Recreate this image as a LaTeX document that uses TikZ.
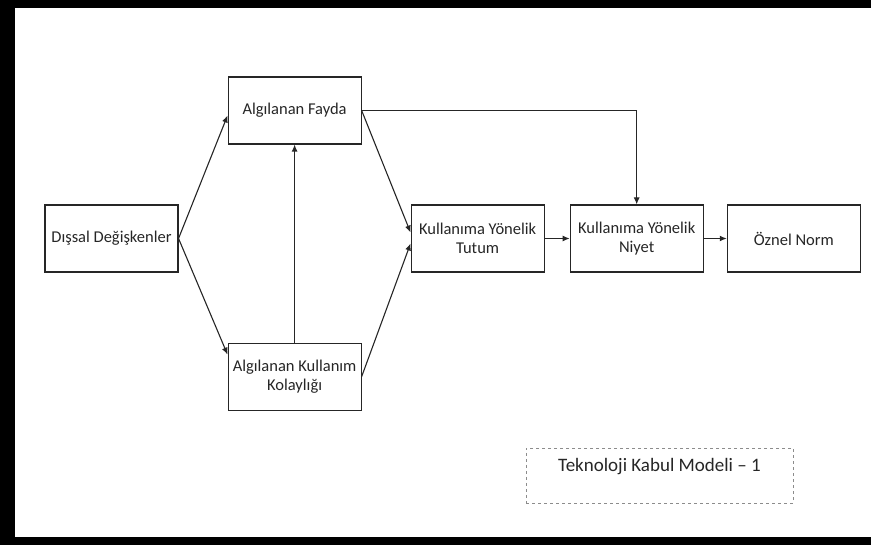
\documentclass[tikz,border=0pt]{standalone}
\usepackage{fontspec}
\setmainfont{Carlito}
\usepackage{tikz}
\usetikzlibrary{positioning, arrows.meta}

\begin{document}
\begin{tikzpicture}[
    x=1pt, y=1pt,
    bx/.style={rectangle, draw=black!85, line width=1.1pt, minimum width=133pt, minimum height=67pt, inner sep=2pt, align=center, font=\fontsize{16.5}{19.5}\selectfont, text=black!85},
    notebox/.style={rectangle, draw=black!45, dashed, line width=0.8pt, minimum width=267pt, minimum height=55pt, text height=14pt, text depth=22pt, font=\fontsize{19}{22}\selectfont, text=black!85},
    arr/.style={-{Latex[length=7pt, width=6pt]}, line width=1.1pt, black!85},
    ]
	% Frame
	\useasboundingbox (0,0) rectangle (871,-545);
	\fill[black] (0,0) rectangle (871,-8);
	\fill[black] (0,0) rectangle (15,-545);
	\fill[black] (0,-537) rectangle (871,-545);

	% External variables
	\node[bx] (dis) at (111.5,-238.5) {Dışsal Değişkenler};
	% Perceived usefulness / ease of use
	\node[bx, right=49pt of dis.east, yshift=128pt] (fayda) {Algılanan Fayda};
	\node[bx, below=198pt of fayda] (kolay) {Algılanan Kullanım\\Kolaylığı};
	% Attitude, intention, norm
	\node[bx, right=232pt of dis.east] (tutum) {Kullanıma Yönelik\\Tutum};
	\node[bx, right=25pt of tutum] (niyet) {Kullanıma Yönelik\\Niyet};
	\node[bx, right=23pt of niyet] (norm) {Öznel Norm};

	% Caption box
	\node[notebox] (tkm) at (659.5,-475.5) {Teknoloji Kabul Modeli – 1};

	% Edges from external variables
	\draw[arr] (dis.east) -- ([yshift=-5pt]fayda.west);
	\draw[arr] (dis.east) -- ([yshift=22pt]kolay.west);
	\draw[arr] (kolay) -- (fayda);

	% Edges to attitude
	\draw[arr] (fayda.east) -- ([yshift=6pt]tutum.west);
	\draw[arr] (kolay.east) -- ([yshift=-5pt]tutum.west);

	% Edges to intention and norm
	\draw[arr] (fayda.east) -| (niyet.north);
	\draw[arr] (tutum) -- (niyet);
	\draw[arr] (niyet) -- (norm);
\end{tikzpicture}
\end{document}
